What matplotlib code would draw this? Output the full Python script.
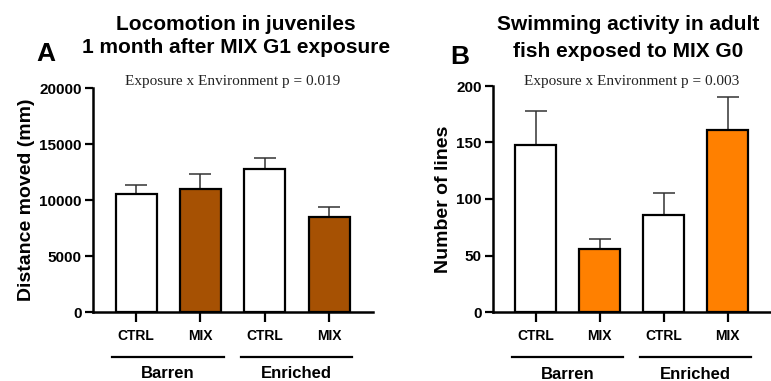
import numpy as np
import matplotlib.pyplot as plt

plt.rcParams['font.family'] = ['Liberation Sans', 'DejaVu Sans']
plt.rcParams['font.weight'] = 'bold'

# group labels
groups = ["CTRL", "MIX", "CTRL", "MIX"]
environments = ["Barren", "Enriched"]

# A: distance moved (mm), mean and SEM
dist_mean = [10500, 11000, 12750, 8500]
dist_sem = [850, 1300, 1000, 900]

# B: number of lines crossed, mean and SEM
lines_mean = [148, 56, 86, 161]
lines_sem = [30, 9, 19, 29]

fig = plt.figure(figsize=(7.71, 3.81), dpi=100)
axA = fig.add_axes([93/771, 69/381, 280/771, 224/381])
axB = fig.add_axes([493/771, 69/381, 278/771, 226/381])


def draw_panel(ax, means, sems, mix_color, ymax, yticks, ylabel, ptext, py):
    x = np.arange(len(means))
    colors = ["white", mix_color, "white", mix_color]
    ax.errorbar(x, means, yerr=[np.zeros(len(sems)), sems], fmt="none",
                ecolor="#333333", elinewidth=1.1, capsize=8, capthick=1.1,
                zorder=1)
    ax.bar(x, means, width=0.64, color=colors, edgecolor="black",
           linewidth=1.6, zorder=2)
    ax.set_ylim(0, ymax)
    ax.set_xlim(-0.67, 3.68)
    ax.set_yticks(yticks)
    ax.set_xticks(x)
    ax.set_xticklabels(groups)
    for s in ["top", "right"]:
        ax.spines[s].set_visible(False)
    for s in ["left", "bottom"]:
        ax.spines[s].set_linewidth(1.8)
    ax.tick_params(axis="y", length=6, width=1.6, pad=2, labelsize=11)
    ax.tick_params(axis="x", length=7, width=1.6, pad=5, labelsize=10)
    ax.set_ylabel(ylabel, fontsize=14, fontweight="bold", labelpad=3)
    ax.text(0.5, py, ptext, transform=ax.transAxes, ha="center",
            va="center", fontsize=11, fontweight="normal",
            family="Liberation Serif", color="#222222")
    # environment brackets under the x axis
    trans = ax.get_xaxis_transform()
    for i, env in enumerate(environments):
        x0 = 2 * i - 0.37
        x1 = 2 * i + 1.36
        ax.plot([x0, x1], [-0.2, -0.2], color="black", lw=1.6,
                transform=trans, clip_on=False)
        ax.text((x0 + x1) / 2, -0.275, env, transform=trans, ha="center",
                va="center", fontsize=12, fontweight="bold")


draw_panel(axA, dist_mean, dist_sem, "#A65103", 20000,
           [0, 5000, 10000, 15000, 20000], "Distance moved (mm)",
           "Exposure x Environment p = 0.019", 1.03)
draw_panel(axB, lines_mean, lines_sem, "#FF8000", 200,
           [0, 50, 100, 150, 200], "Number of lines",
           "Exposure x Environment p = 0.003", 1.02)

fig.text(236/771, 1 - 36/381, "Locomotion in juveniles\n1 month after MIX G1 exposure",
         ha="center", va="center", fontsize=15, fontweight="bold",
         linespacing=1.3)
fig.text(628/771, 1 - 38/381, "Swimming activity in adult\nfish exposed to MIX G0",
         ha="center", va="center", fontsize=15, fontweight="bold",
         linespacing=1.5)
fig.text(46/771, 1 - 54/381, "A", ha="center", va="center", fontsize=19,
         fontweight="bold")
fig.text(460/771, 1 - 57/381, "B", ha="center", va="center", fontsize=19,
         fontweight="bold")

fig.savefig("out.png", dpi=100, facecolor="white")
